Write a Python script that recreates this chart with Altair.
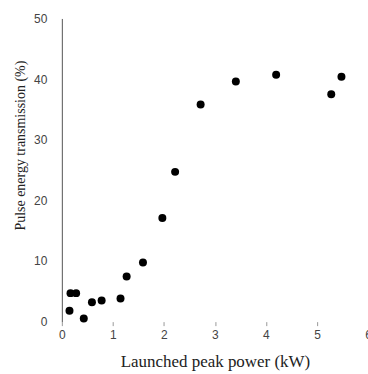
import altair as alt
import pandas as pd

power_kw = [0.15, 0.17, 0.28, 0.43, 0.59, 0.78, 1.15, 1.27, 1.59, 1.97, 2.22, 2.72, 3.41, 4.20, 5.28, 5.48]
transmission = [1.8, 4.7, 4.7, 0.5, 3.2, 3.5, 3.8, 7.45, 9.75, 17.1, 24.7, 35.8, 39.6, 40.7, 37.5, 40.4]

df = pd.DataFrame({"power": power_kw, "trans": transmission})

chart = alt.Chart(df).mark_circle(size=64, color="black", opacity=1).encode(
    x=alt.X("power:Q", scale=alt.Scale(domain=[0, 6], nice=False),
            axis=alt.Axis(title="Launched peak power (kW)", values=[0, 1, 2, 3, 4, 5, 6],
                          domain=False, grid=False, ticks=True, tickSize=4, tickColor="#999",
                          labelFont="Liberation Sans", labelFontSize=12, labelColor="#444",
                          labelPadding=4, labelFlush=False,
                          titleFont="Liberation Serif", titleFontSize=17, titleFontWeight="normal",
                          titleColor="#222", titleY=40, titleBaseline="middle")),
    y=alt.Y("trans:Q", scale=alt.Scale(domain=[0, 50], nice=False),
            axis=alt.Axis(title="Pulse energy transmission (%)", values=[0, 10, 20, 30, 40, 50],
                          domain=True, domainColor="#555", domainWidth=1, grid=False, ticks=False,
                          labelFont="Liberation Sans", labelFontSize=12, labelColor="#444",
                          labelPadding=15,
                          titleFont="Liberation Serif", titleFontSize=14, titleFontWeight="normal",
                          titleColor="#222", titleX=-41, titleY=127, titleBaseline="middle")),
).properties(
    width=307, height=304,
    autosize=alt.AutoSizeParams(type="none"),
    padding={"left": 62, "top": 18, "right": 0, "bottom": 52},
).configure_view(stroke=None)

chart.save("out.html", embed_options={"renderer": "svg", "actions": False})
